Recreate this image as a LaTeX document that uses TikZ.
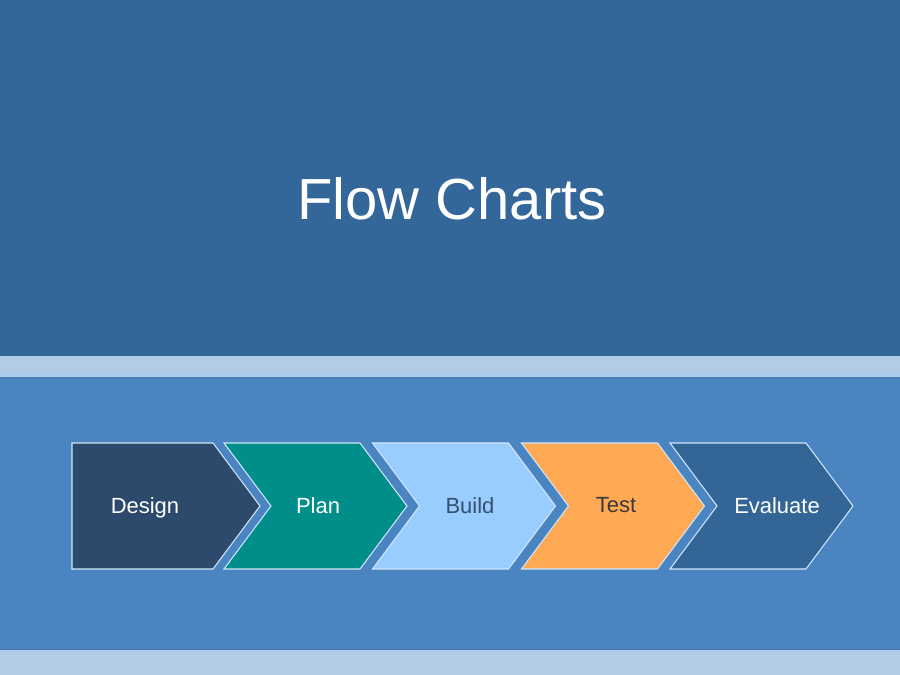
\documentclass[tikz,border=0pt]{standalone}
\usepackage{fontspec}
\setmainfont{Liberation Sans}
\definecolor{slidetop}{HTML}{336699}
\definecolor{slidemid}{HTML}{4A85C2}
\definecolor{slidestrip}{HTML}{B3CCE5}
\definecolor{stripdark}{HTML}{4779A8}
\definecolor{striplight}{HTML}{A8CBEE}
\definecolor{chevedge}{HTML}{D2E6FA}
\definecolor{designnavy}{HTML}{2D4A6C}
\definecolor{planteal}{HTML}{008E8A}
\definecolor{buildsky}{HTML}{99CCFF}
\definecolor{testorange}{HTML}{FFA955}
\definecolor{evalblue}{HTML}{346597}
\definecolor{builddark}{HTML}{34506E}
\definecolor{testdark}{HTML}{3A3A3A}
\tikzset{
  chevron/.style={draw=chevedge, line width=0.6pt, line join=miter},
  steplabel/.style={font=\fontsize{12.5}{15}\selectfont, anchor=base, inner sep=0pt},
  titletext/.style={font=\fontsize{33}{40}\selectfont, text=white, anchor=base, inner sep=0pt}
}

\begin{document}
\begin{tikzpicture}[x=1cm,y=1cm]
\useasboundingbox (0,0) rectangle (18,13.5);

% slide background
\fill[slidetop] (-0.1,6.38) rectangle (18.1,13.6);
\fill[slidestrip] (-0.1,5.94) rectangle (18.1,6.38);
\fill[slidemid] (-0.1,0.50) rectangle (18.1,5.94);
\fill[slidestrip] (-0.1,-0.1) rectangle (18.1,0.50);
\draw[striplight, line width=0.6pt] (-0.1,6.0) -- (18.1,6.0);
\draw[stripdark, line width=0.6pt] (-0.1,5.95) -- (18.1,5.95);
\draw[stripdark, line width=0.6pt] (-0.1,0.51) -- (18.1,0.51);
\draw[striplight, line width=0.6pt] (-0.1,0.47) -- (18.1,0.47);

\node[titletext] (title) at (9.04,9.10) {Flow Charts};

% process chevrons
\draw[chevron, fill=designnavy] (1.44,4.64) -- ++(2.82,0) -- ++(0.94,-1.26)
  -- ++(-0.94,-1.26) -- ++(-2.82,0) -- cycle;
\draw[chevron, fill=planteal] (4.48,4.64) -- ++(2.72,0) -- ++(0.94,-1.26)
  -- ++(-0.94,-1.26) -- ++(-2.72,0) -- ++(0.94,1.26) -- cycle;
\draw[chevron, fill=buildsky] (7.45,4.64) -- ++(2.72,0) -- ++(0.94,-1.26)
  -- ++(-0.94,-1.26) -- ++(-2.72,0) -- ++(0.94,1.26) -- cycle;
\draw[chevron, fill=testorange] (10.43,4.64) -- ++(2.72,0) -- ++(0.94,-1.26)
  -- ++(-0.94,-1.26) -- ++(-2.72,0) -- ++(0.94,1.26) -- cycle;
\draw[chevron, fill=evalblue] (13.40,4.64) -- ++(2.72,0) -- ++(0.94,-1.26)
  -- ++(-0.94,-1.26) -- ++(-2.72,0) -- ++(0.94,1.26) -- cycle;

\node[steplabel, text=white] (design) at (2.90,3.22) {Design};
\node[steplabel, text=white] (plan) at (6.36,3.22) {Plan};
\node[steplabel, text=builddark] (build) at (9.40,3.22) {Build};
\node[steplabel, text=testdark] (test) at (12.32,3.24) {Test};
\node[steplabel, text=white] (evaluate) at (15.54,3.22) {Evaluate};

\end{tikzpicture}
\end{document}
